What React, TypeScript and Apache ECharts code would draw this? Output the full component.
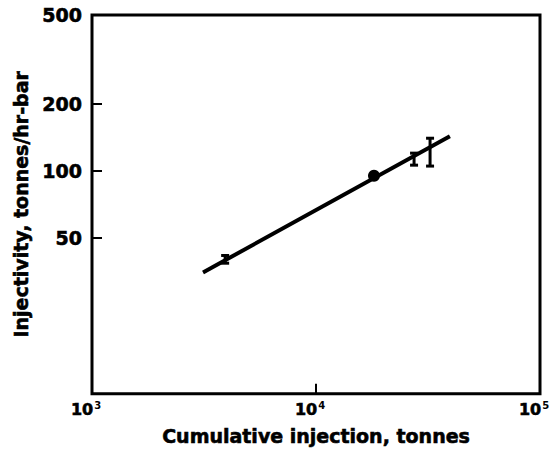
import React, { useEffect, useRef } from "react";
import * as echarts from "echarts";

const xTickExponents = ["3", "4", "5"];
const xLabelValues = [1000, 10000, 100000];
const xTickValues = [10000];
const yLabelValues = [50, 100, 200, 500];
const yTickValues = [50, 100, 200];

// fitted line endpoints [cumulative injection, injectivity]
const fitLine = [
  [3130, 35],
  [39600, 143],
];
// measured point
const dotPoint = [[18150, 95]];
// error bars [x, low, high]
const errorBars = [
  [3930, 38.5, 41.7],
  [27400, 106, 120],
  [32300, 105, 140],
];

const FONT = "DejaVu Sans";
const heavy = { textBorderColor: "#000", textBorderWidth: 0.6 };

export default function App() {
  const ref = useRef<HTMLDivElement>(null);
  useEffect(() => {
    if (!ref.current) return;
    const chart = echarts.init(ref.current, undefined, { renderer: "svg" });
    chart.setOption({
      animation: false,
      backgroundColor: "#ffffff",
      grid: {
        left: 92,
        top: 15,
        right: 16,
        bottom: 57,
        show: true,
        borderColor: "#000",
        borderWidth: 3,
        backgroundColor: "transparent",
      },
      xAxis: {
        type: "log",
        logBase: 10,
        min: 1000,
        max: 100000,
        name: "Cumulative injection, tonnes",
        nameLocation: "middle",
        nameGap: 33,
        nameTextStyle: { fontFamily: FONT, fontWeight: "bold", fontSize: 19, color: "#000", ...heavy },
        axisLine: { show: false },
        splitLine: { show: false },
        minorTick: { show: false },
        axisTick: {
          show: true,
          inside: true,
          length: 10,
          lineStyle: { color: "#000", width: 2 },
          customValues: xTickValues,
        },
        axisLabel: {
          customValues: xLabelValues,
          margin: 7,
          padding: [0, 12, 0, 0],
          fontFamily: FONT,
          fontWeight: "bold",
          color: "#000",
          formatter: (v: number) =>
            `{b|10}{s|${xTickExponents[xLabelValues.indexOf(v)] ?? ""}}`,
          rich: {
            b: { fontFamily: FONT, fontWeight: "bold", fontSize: 16, lineHeight: 18, color: "#000", ...heavy },
            s: { fontFamily: FONT, fontWeight: "bold", fontSize: 10, lineHeight: 10, verticalAlign: "top", color: "#000", padding: [0, 0, 0, 1] },
          },
        },
      },
      yAxis: {
        type: "log",
        logBase: 10,
        min: 10,
        max: 500,
        name: "Injectivity, tonnes/hr-bar",
        nameLocation: "middle",
        nameGap: 54,
        nameTextStyle: { fontFamily: FONT, fontWeight: "bold", fontSize: 19, color: "#000", ...heavy },
        axisLine: { show: false },
        splitLine: { show: false },
        minorTick: { show: false },
        axisTick: {
          show: true,
          inside: true,
          length: 10,
          lineStyle: { color: "#000", width: 2 },
          customValues: yTickValues,
        },
        axisLabel: {
          customValues: yLabelValues,
          margin: 10,
          fontFamily: FONT,
          fontWeight: "bold",
          fontSize: 19,
          color: "#000",
          ...heavy,
        },
      },
      series: [
        {
          type: "line",
          data: fitLine,
          symbol: "none",
          lineStyle: { color: "#000", width: 4 },
        },
        {
          type: "scatter",
          data: dotPoint,
          symbol: "circle",
          symbolSize: 12,
          itemStyle: { color: "#000", opacity: 1 },
        },
        {
          type: "custom",
          data: errorBars,
          renderItem: (params: any, api: any) => {
            const x = api.value(0);
            const lo = api.coord([x, api.value(1)]);
            const hi = api.coord([x, api.value(2)]);
            const cw = 4;
            const style = { stroke: "#000", lineWidth: 3 };
            return {
              type: "group",
              children: [
                { type: "line", shape: { x1: lo[0], y1: lo[1], x2: hi[0], y2: hi[1] }, style },
                { type: "line", shape: { x1: lo[0] - cw, y1: lo[1], x2: lo[0] + cw, y2: lo[1] }, style },
                { type: "line", shape: { x1: hi[0] - cw, y1: hi[1], x2: hi[0] + cw, y2: hi[1] }, style },
              ],
            };
          },
        },
      ],
    });
    return () => chart.dispose();
  }, []);
  return (
    <div
      ref={ref}
      style={{ position: "fixed", left: 0, top: 0, width: 556, height: 451, background: "#fff" }}
    />
  );
}
